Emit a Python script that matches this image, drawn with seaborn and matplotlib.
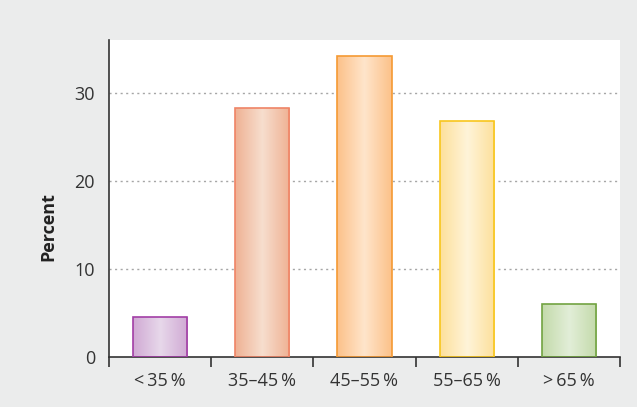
import numpy as np
import pandas as pd
import matplotlib
matplotlib.use("Agg")
import matplotlib.pyplot as plt
import seaborn as sns
from matplotlib.colors import LinearSegmentedColormap

# --- data ---
categories = ["<\u200935\u2009%", "35\u201345\u2009%", "45\u201355\u2009%", "55\u201365\u2009%", ">\u200965\u2009%"]
percent = [4.5, 28.3, 34.2, 26.8, 6.0]

# edge colour, outer fill, centre fill
edge_colors = ["#a23ea6", "#ef8466", "#f59a33", "#f8c61c", "#72a342"]
outer_fill = ["#d0a9d4", "#efb193", "#fcc189", "#fde09b", "#c3daaa"]
inner_fill = ["#e7d8ea", "#f7dece", "#ffe5cb", "#fff4d9", "#e2eed8"]

df = pd.DataFrame({"group": categories, "percent": percent})

sns.set_style("white")
plt.rcParams["font.family"] = ["Open Sans", "DejaVu Sans"]

bg = "#ebecec"
fig = plt.figure(figsize=(6.37, 4.07), dpi=100, facecolor=bg)
ax = fig.add_axes([109 / 637, 1 - 357 / 407, 511 / 637, 317 / 407])

sns.barplot(data=df, x="group", y="percent", ax=ax, width=0.53,
            color="white", saturation=1)

# gradient fill in each bar
for i, patch in enumerate(ax.patches):
    cmap = LinearSegmentedColormap.from_list(
        f"g{i}", [outer_fill[i], inner_fill[i], outer_fill[i]])
    x0, y0 = patch.get_x(), patch.get_y()
    w, h = patch.get_width(), patch.get_height()
    grad = np.linspace(0, 1, 256).reshape(1, -1)
    im = ax.imshow(grad, cmap=cmap, aspect="auto",
                   extent=[x0, x0 + w, y0, y0 + h], zorder=2.5)
    im.set_clip_path(patch)
    patch.set_edgecolor(edge_colors[i])
    patch.set_linewidth(1.2)
    patch.set_facecolor("none")
    patch.set_zorder(3)

ax.set_aspect("auto")
ax.set_xlim(-0.5, 4.5)
ax.set_ylim(0, 36)

# grid lines
for yv in [10, 20, 30]:
    ax.axhline(yv, color="#a6a6a6", linestyle=(0, (1.5, 2.5)), linewidth=1, zorder=1)

ax.set_yticks([0, 10, 20, 30])
ax.set_xticks(np.arange(5))
ax.set_xticklabels(categories)
ax.set_xticks(np.arange(-0.5, 5, 1), minor=True)
ax.tick_params(axis="x", which="major", length=0, pad=11, labelsize=13, colors="#333333")
ax.tick_params(axis="x", which="minor", length=7, width=1.2, direction="out", color="#333333")
ax.tick_params(axis="y", length=7, width=1.2, direction="out", color="#333333",
               labelsize=13, labelcolor="#333333", pad=3)
ax.xaxis.set_tick_params(bottom=True, which="minor")

for side in ["top", "right"]:
    ax.spines[side].set_visible(False)
for side in ["left", "bottom"]:
    ax.spines[side].set_color("#333333")
    ax.spines[side].set_linewidth(1.2)

ax.set_xlabel("")
ax.set_ylabel("Percent", fontsize=13, fontweight="bold", color="#222222")
ax.yaxis.set_label_coords(-0.102, 0.413)

fig.savefig("out.png", dpi=100, facecolor=bg)
